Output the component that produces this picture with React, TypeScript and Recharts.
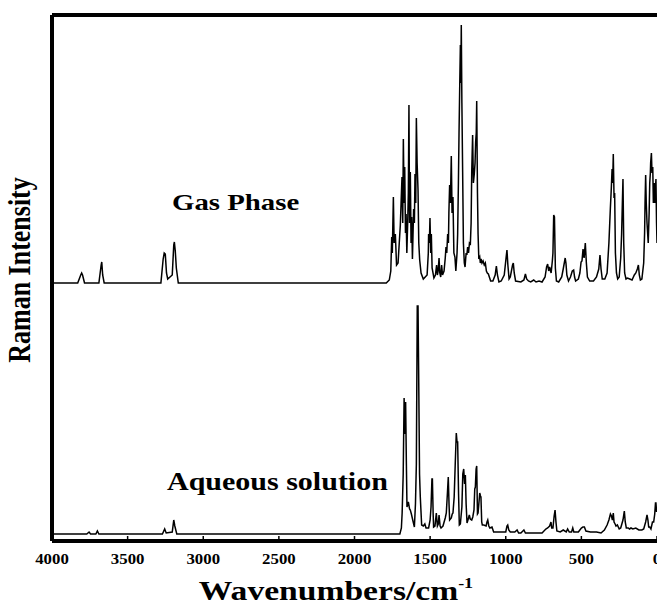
import { LineChart, Line, XAxis, YAxis, ReferenceLine } from "recharts";

// Raman spectra: [wavenumber cm-1, intensity a.u.]
const gasPhase: [number, number][] = [
  [4000, 0], [3830, 0], [3810, 8], [3804, 10], [3798, 8], [3785, 0],
  [3690, 0], [3675, 18], [3671, 21], [3665, 8], [3655, 0],
  [3280, 0], [3265, 24], [3258, 30], [3251, 29], [3243, 10], [3235, 4],
  [3205, 8], [3195, 38], [3191, 41], [3185, 32], [3178, 15], [3165, 0],
  [1790, 0], [1770, 3], [1760, 12], [1754, 46], [1750, 30], [1743, 86],
  [1738, 40], [1730, 49], [1722, 18], [1712, 20], [1697, 58], [1692, 80],
  [1686, 106], [1681, 60], [1677, 144], [1672, 80], [1668, 116], [1663, 50],
  [1659, 69], [1654, 30], [1648, 62], [1644, 90], [1640, 178], [1636, 60],
  [1631, 111], [1626, 40], [1622, 66], [1617, 24], [1612, 56], [1609, 74],
  [1604, 60], [1600, 109], [1595, 80], [1591, 165], [1586, 120], [1580, 93],
  [1575, 40], [1569, 23], [1560, 10], [1545, 4], [1520, 8], [1512, 30],
  [1510, 49], [1505, 40], [1501, 65], [1496, 30], [1492, 49], [1487, 15],
  [1475, 5], [1465, 8], [1457, 18], [1452, 8], [1447, 12], [1441, 25],
  [1436, 10], [1430, 6], [1424, 18], [1418, 8], [1408, 12], [1400, 25],
  [1395, 36], [1390, 30], [1384, 49], [1379, 40], [1376, 70], [1371, 98],
  [1366, 80], [1360, 127], [1355, 70], [1349, 86], [1343, 30], [1336, 26],
  [1330, 12], [1322, 30], [1318, 49], [1313, 100], [1309, 149], [1304, 200],
  [1300, 238], [1297, 200], [1294, 258], [1290, 180], [1285, 111], [1280, 40],
  [1274, 20], [1269, 16], [1262, 30], [1257, 28], [1252, 36], [1246, 30],
  [1240, 40], [1234, 39], [1229, 60], [1225, 111], [1222, 130], [1219, 148],
  [1214, 100], [1208, 109], [1203, 120], [1199, 141], [1195, 150], [1192, 182],
  [1187, 90], [1183, 49], [1178, 24], [1172, 26], [1168, 20], [1163, 24],
  [1157, 20], [1150, 22], [1142, 18], [1135, 20], [1128, 12], [1122, 10],
  [1115, 9], [1100, 2], [1085, 2], [1070, 8], [1062, 17], [1055, 8],
  [1045, 1], [1030, 2], [1010, 8], [998, 25], [992, 33], [986, 18],
  [978, 4], [970, 6], [955, 18], [950, 20], [944, 10], [935, 2],
  [900, 1], [880, 3], [870, 9], [862, 4], [850, 2], [835, 1], [815, 3],
  [800, 1], [780, 2], [760, 1], [740, 6], [730, 16], [723, 19], [716, 12],
  [710, 16], [700, 10], [692, 22], [688, 30], [683, 68], [678, 66], [672, 15],
  [665, 2], [650, 1], [630, 6], [620, 14], [613, 20], [607, 25], [602, 20],
  [596, 8], [585, 2], [572, 6], [560, 12], [551, 13], [545, 6], [538, 2],
  [520, 4], [510, 10], [502, 21], [496, 22], [489, 34], [482, 25], [474, 40],
  [467, 20], [460, 6], [445, 2], [420, 2], [400, 6], [385, 14], [377, 28],
  [370, 14], [362, 4], [345, 4], [330, 10], [318, 40], [308, 76], [302, 95],
  [297, 114], [293, 100], [289, 129], [284, 85], [280, 90], [275, 30],
  [268, 10], [260, 4], [250, 6], [240, 25], [234, 49], [229, 80], [225, 104],
  [220, 40], [214, 10], [205, 4], [195, 5], [180, 4], [165, 3], [150, 8],
  [140, 10], [130, 14], [123, 18], [117, 8], [110, 3], [100, 4], [88, 20],
  [82, 50], [79, 80], [75, 108], [71, 80], [66, 60], [58, 40], [52, 70],
  [48, 100], [44, 110], [42, 120], [37, 130], [33, 110], [28, 116], [24, 80],
  [21, 90], [18, 100], [14, 80], [10, 95], [7, 104], [3, 60], [0, 40],
];

const aqueous: [number, number][] = [
  [4000, 0], [3770, 0], [3755, 2], [3745, 0], [3710, 0], [3700, 3], [3690, 0],
  [3270, 0], [3255, 5], [3245, 1], [3205, 2], [3195, 14], [3188, 8], [3175, 0],
  [1700, 0], [1690, 6], [1685, 21], [1678, 60], [1672, 136], [1667, 100],
  [1662, 132], [1657, 70], [1653, 27], [1648, 30], [1644, 32], [1636, 25],
  [1631, 24], [1624, 20], [1615, 14], [1604, 7], [1597, 30], [1591, 70],
  [1585, 228], [1580, 228], [1576, 164], [1570, 60], [1565, 37], [1556, 9],
  [1545, 8], [1535, 10], [1527, 6], [1510, 6], [1500, 14], [1494, 27],
  [1488, 55], [1485, 55], [1480, 20], [1477, 7], [1468, 8], [1459, 21],
  [1452, 8], [1446, 10], [1441, 19], [1434, 8], [1428, 6], [1415, 8],
  [1400, 16], [1393, 21], [1386, 40], [1380, 57], [1375, 30], [1371, 14],
  [1360, 16], [1354, 20], [1349, 21], [1341, 37], [1334, 70], [1327, 101],
  [1322, 92], [1318, 92], [1312, 40], [1307, 9], [1300, 10], [1290, 27],
  [1284, 60], [1278, 65], [1272, 50], [1267, 59], [1262, 30], [1256, 11],
  [1248, 15], [1241, 19], [1235, 15], [1225, 14], [1218, 17], [1210, 24],
  [1205, 45], [1201, 47], [1196, 65], [1192, 68], [1187, 20], [1183, 21],
  [1178, 30], [1172, 41], [1167, 38], [1164, 37], [1159, 12], [1155, 9],
  [1145, 9], [1130, 8], [1124, 12], [1119, 14], [1112, 8], [1105, 6],
  [1091, 7], [1080, 2], [1065, 2], [1000, 2], [992, 8], [987, 9], [980, 4],
  [970, 2], [940, 2], [925, 4], [915, 1], [900, 1], [880, 4], [870, 1],
  [760, 1], [735, 5], [723, 6], [710, 8], [701, 12], [696, 6], [688, 6],
  [680, 18], [674, 24], [668, 12], [662, 3], [640, 2], [620, 4], [600, 2],
  [591, 5], [580, 2], [565, 2], [557, 6], [550, 2], [520, 2], [500, 6],
  [490, 7], [480, 7], [470, 3], [440, 2], [400, 2], [370, 1], [348, 4],
  [330, 9], [318, 14], [308, 20], [301, 18], [295, 14], [289, 21], [284, 12],
  [277, 10], [271, 8], [262, 9], [250, 5], [240, 6], [225, 14], [216, 23],
  [210, 12], [203, 6], [190, 6], [182, 5], [172, 6], [160, 5], [140, 6],
  [120, 4], [100, 4], [88, 5], [75, 12], [66, 19], [60, 14], [55, 7],
  [48, 7], [40, 5], [30, 12], [22, 12], [15, 20], [10, 31], [7, 31],
  [3, 22], [0, 25],
];

const xTicks = [4000, 3500, 3000, 2500, 2000, 1500, 1000, 500, 0];

// vertical stacking of the two traces
const gasOffset = 258;
const aqueousOffset = 7;
const yMax = 526;

const gasData = gasPhase.map(([w, v]) => ({ w, v: v + gasOffset }));
const aqData = aqueous.map(([w, v]) => ({ w, v: v + aqueousOffset }));

const font = '"Liberation Serif", "Times New Roman", serif';

function Tick(props: any) {
  const { x, y, payload } = props;
  const axisY = y - 13;
  return (
    <g>
      <line x1={x} x2={x} y1={axisY - 5} y2={axisY} stroke="#000" strokeWidth={1.5} />
      <text
        transform={`translate(${x},${y + 10}) scale(1.2,1)`}
        textAnchor="middle"
        fontFamily={font}
        fontWeight="bold"
        fontSize={14}
        fill="#000"
      >
        {payload.value}
      </text>
    </g>
  );
}

export default function App() {
  return (
    <div style={{ position: "absolute", left: 0, top: 0, width: 657, height: 607, overflow: "hidden", background: "#fff" }}>
      <LineChart width={680} height={607} margin={{ top: 15, right: 23, bottom: 26, left: 52 }}>
        <XAxis
          type="number"
          dataKey="w"
          domain={[0, 4000]}
          reversed
          ticks={xTicks}
          interval={0}
          height={40}
          tickSize={0}
          tickMargin={13}
          tickLine={false}
          axisLine={{ stroke: "#000", strokeWidth: 4 }}
          tick={<Tick />}
          allowDataOverflow
        />
        <YAxis type="number" domain={[0, yMax]} hide allowDataOverflow />
        <ReferenceLine y={yMax} stroke="#000" strokeWidth={4} />
        <ReferenceLine x={4000} stroke="#000" strokeWidth={4} />
        <Line data={gasData} dataKey="v" type="linear" stroke="#000" strokeWidth={1.5} dot={false} isAnimationActive={false} />
        <Line data={aqData} dataKey="v" type="linear" stroke="#000" strokeWidth={1.5} dot={false} isAnimationActive={false} />
        <text
          transform="translate(172,210) scale(1.2,1)"
          fontFamily={font}
          fontWeight="bold"
          fontSize={24}
          fill="#000"
        >
          Gas Phase
        </text>
        <text
          transform="translate(167,490) scale(1.2,1)"
          fontFamily={font}
          fontWeight="bold"
          fontSize={25}
          fill="#000"
        >
          Aqueous solution
        </text>
        <text
          transform="translate(30,270) rotate(-90) scale(1,1.2)"
          textAnchor="middle"
          fontFamily={font}
          fontWeight="bold"
          fontSize={26}
          fill="#000"
        >
          Raman Intensity
        </text>
        <text
          transform="translate(336,600) scale(1.2,1)"
          textAnchor="middle"
          fontFamily={font}
          fontWeight="bold"
          fontSize={28}
          fill="#000"
        >
          Wavenumbers/cm
          <tspan dy={-12} fontSize={15}>-1</tspan>
        </text>
      </LineChart>
    </div>
  );
}
